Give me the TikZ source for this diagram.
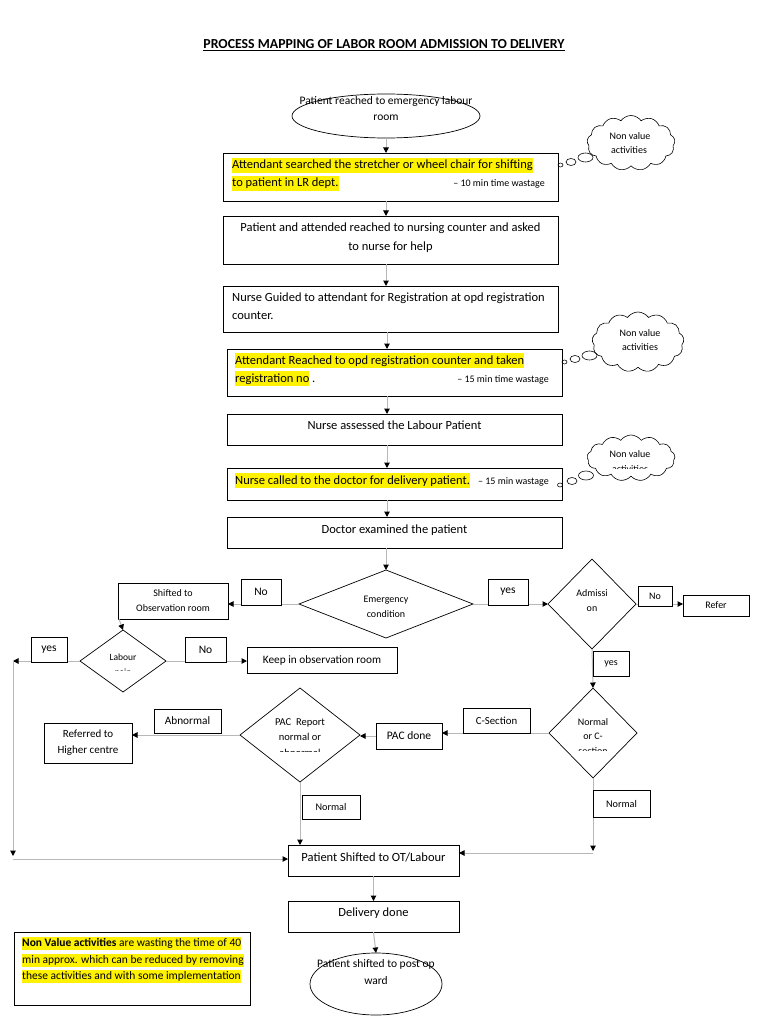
\documentclass[tikz,border=0pt]{standalone}
\usepackage{fontspec}
\setmainfont{Carlito}
\usetikzlibrary{shapes.geometric,shapes.symbols,arrows.meta,calc}
\newcommand{\hly}[1]{{\setlength{\fboxsep}{0pt}\colorbox{yellow}{\rule[-3.8pt]{0pt}{15pt}#1}}}
\newcommand{\hlz}[1]{{\setlength{\fboxsep}{0pt}\colorbox{yellow}{\rule[-3.5pt]{0pt}{13.5pt}#1}}}
\begin{document}
\begin{tikzpicture}[x=1pt,y=-1pt,
  box/.style={draw=black, line width=0.7pt, inner sep=0pt, outer sep=0pt},
  lbl/.style={box, fill=white, font=\fontsize{11.5}{13}\selectfont},
  dia/.style={diamond, draw=black, line width=0.7pt, inner sep=0pt, outer sep=0pt},
  ell/.style={ellipse, draw=black, line width=0.7pt, inner sep=0pt, outer sep=0pt},
  conn/.style={draw=black!28, line width=1pt, -{Triangle[length=5.5pt,width=5.5pt,black]}},
  txt/.style={inner sep=0pt, font=\fontsize{12.5}{15}\selectfont, text height=9pt, text depth=3pt},
  stxt/.style={inner sep=0pt, font=\fontsize{10}{12}\selectfont, text height=7pt, text depth=2.5pt},
  mtxt/.style={inner sep=0pt, font=\fontsize{11.5}{13}\selectfont, text height=8pt, text depth=2.8pt},
  nv/.style={cloud, cloud puffs=13, cloud puff arc=110, draw=black, line width=0.6pt, inner sep=0pt},
  bub/.style={draw=black, line width=0.6pt}
]
\fill[white] (0,0) rectangle (768,1024);
\useasboundingbox (0,0) rectangle (768,1024);

% title
\node[font=\fontsize{13.8}{15}\selectfont\bfseries] (title) at (384,45) {\underline{PROCESS MAPPING OF LABOR ROOM ADMISSION TO DELIVERY}};

% start
\node[ell, minimum width=188pt, minimum height=44pt] (st) at (386,116) {};
\node[mtxt] (st1) at (386,102) {Patient reached to emergency labour};
\node[mtxt] (st2) at (386,118) {room};

% main boxes
\node[box, minimum width=335pt, minimum height=48pt] (b1) at (390.5,177) {};
\node[txt, anchor=west] (b1a) at (232,166) {\hly{Attendant searched the stretcher or wheel chair for shifting}};
\node[txt, anchor=west] (b1b) at (232,184) {\hly{to patient in LR dept.}};
\node[stxt, anchor=east] (b1c) at (545,184) {– 10 min time wastage};

\node[box, minimum width=335pt, minimum height=48pt] (b2) at (390.5,240) {};
\node[txt] (b2a) at (390.5,229) {Patient and attended reached to nursing counter and asked};
\node[txt] (b2b) at (390.5,247) {to nurse for help};

\node[box, minimum width=335pt, minimum height=46pt] (b3) at (390.5,309) {};
\node[txt, anchor=west] (b3a) at (232,298) {Nurse Guided to attendant for Registration at opd registration};
\node[txt, anchor=west] (b3b) at (232,316) {counter.};

\node[box, minimum width=335pt, minimum height=47pt] (b4) at (394.5,372.5) {};
\node[txt, anchor=west] (b4a) at (235,361) {\hly{Attendant Reached to opd registration counter and taken}};
\node[txt, anchor=west] (b4b) at (235,379) {\hly{registration no} .};
\node[stxt, anchor=east] (b4c) at (549,380) {– 15 min time wastage};

\node[box, minimum width=335pt, minimum height=31pt] (b5) at (394.5,429.5) {};
\node[txt] (b5a) at (394.5,426.5) {Nurse assessed the Labour Patient};

\node[box, minimum width=335pt, minimum height=32pt] (b6) at (394.5,484) {};
\node[txt, anchor=west] (b6a) at (235,481) {\hly{Nurse called to the doctor for delivery patient.}};
\node[stxt, anchor=east] (b6b) at (549,482) {– 15 min wastage};

\node[box, minimum width=335pt, minimum height=31pt] (b7) at (394.5,532.5) {};
\node[txt] (b7a) at (394.5,530) {Doctor examined the patient};

% clouds
\node[nv, minimum width=88pt, minimum height=55pt] (c1) at (631,143) {};
\node[stxt] (c1a) at (630,137) {Non value};
\node[stxt] (c1b) at (629,151) {activities};
\draw[bub] (560.5,165) ellipse (2.5 and 2);
\draw[bub] (571,162) ellipse (5 and 3.5);
\draw[bub] (585.5,157.5) ellipse (7.5 and 4.5);

\node[nv, minimum width=92pt, minimum height=60pt] (c2) at (638,342) {};
\node[stxt] (c2a) at (640,334) {Non value};
\node[stxt] (c2b) at (640,348) {activities};
\draw[bub] (564.5,362) ellipse (2.5 and 2);
\draw[bub] (575,359) ellipse (5 and 3.5);
\draw[bub] (589.5,355.5) ellipse (7.5 and 4.5);

\node[nv, minimum width=88pt, minimum height=46pt] (c3) at (631,458) {};
\node[stxt] (c3a) at (630,455) {Non value};
\begin{scope}
\clip (590,464) rectangle (670,468);
\node[stxt] (c3b) at (630,470) {activities};
\end{scope}
\draw[bub] (560,485) ellipse (2.5 and 2);
\draw[bub] (572,481) ellipse (5 and 3.5);
\draw[bub] (586,475.5) ellipse (7.5 and 4.5);

% decisions
\node[dia, minimum width=174pt, minimum height=68pt] (em) at (386,604) {};
\node[stxt] (em1) at (386,600) {Emergency};
\begin{scope}
\clip (340,606) rectangle (430,616);
\node[stxt] (em2) at (386,615) {condition};
\end{scope}

\node[dia, minimum width=88pt, minimum height=90pt] (adm) at (592,604) {};
\node[stxt] (adm1) at (592,594.5) {Admissi};
\node[stxt] (adm2) at (592,609) {on};

\node[dia, minimum width=88pt, minimum height=90pt] (nc) at (593,733) {};
\node[stxt] (nc1) at (593,723) {Normal};
\node[stxt] (nc2) at (593,737) {or C-};
\begin{scope}
\clip (560,745) rectangle (626,750);
\node[stxt] (nc3) at (593,752) {section};
\end{scope}

\node[dia, minimum width=86pt, minimum height=62pt] (lab) at (123,661) {};
\node[stxt, font=\fontsize{9.5}{11}\selectfont] (lab1) at (123,658) {Labour};
\begin{scope}
\clip (100,666) rectangle (146,670.5);
\node[stxt, font=\fontsize{9.5}{11}\selectfont] (lab2) at (123,673) {pain};
\end{scope}

\node[dia, minimum width=120pt, minimum height=94pt] (pac) at (300,735) {};
\node[stxt, font=\fontsize{10.5}{12}\selectfont] (pac1) at (300,723) {PAC\ \ Report};
\node[stxt, font=\fontsize{10.5}{12}\selectfont] (pac2) at (300,738) {normal or};
\begin{scope}
\clip (260,746) rectangle (340,751);
\node[stxt, font=\fontsize{10.5}{12}\selectfont] (pac3) at (300,754) {abnormal};
\end{scope}

% other boxes
\node[box, minimum width=110pt, minimum height=36pt, align=center, font=\fontsize{10}{15}\selectfont] (shf) at (173,601) {Shifted to\\Observation room};
\node[box, minimum width=66pt, minimum height=21pt, font=\fontsize{10}{12}\selectfont] (refer) at (716,605.5) {Refer};
\node[box, minimum width=150pt, minimum height=26pt, font=\fontsize{11.3}{13}\selectfont] (keep) at (322,660) {Keep in observation room};
\node[box, minimum width=66pt, minimum height=26pt, font=\fontsize{11.5}{13}\selectfont] (pacd) at (409,736) {PAC done};
\node[box, minimum width=88pt, minimum height=40pt, align=center, font=\fontsize{11}{16}\selectfont] (reff) at (88,743) {Referred to\\Higher centre};
\node[box, minimum width=171pt, minimum height=31pt] (ot) at (373.5,860.5) {};
\node[txt] (ota) at (373.5,858) {Patient Shifted to OT/Labour};
\node[box, minimum width=171pt, minimum height=31pt] (del) at (373.5,916.5) {};
\node[txt] (dela) at (373.5,913) {Delivery done};
\node[ell, minimum width=132pt, minimum height=62pt] (fin) at (376,984) {};
\node[mtxt] (fin1) at (376,965) {Patient shifted to post op};
\node[mtxt] (fin2) at (376,982) {ward};

% coordinates for free ends
\coordinate (L1) at (13,661);
\coordinate (L2) at (13,856);
\coordinate (L3) at (13,859);
\coordinate (R1) at (593,851);
\coordinate (R2) at (593,853);

% connectors
\draw[conn] (st.south) -- (st.south |- b1.north);
\draw[conn] (b1.south -| st.south) -- (b2.north -| st.south);
\draw[conn] (b2.south -| st.south) -- (b3.north -| st.south);
\draw[conn] ($(b3.south -| st.south)+(1,0)$) -- ($(b4.north -| st.south)+(1,0)$);
\draw[conn] ($(b4.south -| st.south)+(1,0)$) -- ($(b5.north -| st.south)+(1,0)$);
\draw[conn] ($(b5.south -| st.south)+(1,0)$) -- ($(b6.north -| st.south)+(1,0)$);
\draw[conn] ($(b6.south -| st.south)+(1,0)$) -- ($(b7.north -| st.south)+(1,0)$);
\draw[conn] (b7.south -| em.north) -- (em.north);
\draw[conn] (em.west) -- (em.west -| shf.east);
\draw[conn] (em.east) -- (adm.west);
\draw[conn] (adm.east) -- (adm.east -| refer.west);
\draw[conn] (adm.south) -- (nc.north);
\draw[conn] ($(shf.south -| lab.north)+(-4,0)$) -- (lab.north);
\draw[conn] (lab.west) -- (L1);
\draw[conn] (L1) -- (L2);
\draw[conn] (L3) -- (L3 -| ot.west);
\draw[conn] (lab.east) -- (lab.east -| keep.west);
\draw[conn] (nc.west) -- (nc.west -| pacd.east);
\draw[conn] (pacd.west) -- (pacd.west -| pac.east);
\draw[conn] (pac.west) -- (pac.west -| reff.east);
\draw[conn] (pac.south) -- (pac.south |- ot.north);
\draw[conn] (nc.south) -- (R1);
\draw[conn] (R2) -- (R2 -| ot.east);
\draw[conn] (ot.south) -- (del.north);
\draw[conn] (del.south) -- (fin.north);

% branch labels
\node[lbl, minimum width=40pt, minimum height=26pt] (noE) at (261,592) {No};
\node[lbl, minimum width=40pt, minimum height=26pt] (yesE) at (508,592) {yes};
\node[lbl, minimum width=34pt, minimum height=20pt, font=\fontsize{10}{12}\selectfont] (noA) at (655,596) {No};
\node[lbl, minimum width=36pt, minimum height=25pt, font=\fontsize{10}{12}\selectfont] (yesA) at (611,663.5) {yes};
\node[lbl, minimum width=36pt, minimum height=25pt] (yesL) at (49,649.5) {yes};
\node[lbl, minimum width=41pt, minimum height=25pt] (noL) at (205.5,649.5) {No};
\node[lbl, minimum width=67pt, minimum height=25pt, font=\fontsize{10.8}{13}\selectfont] (csec) at (496.5,720.5) {C-Section};
\node[lbl, minimum width=67pt, minimum height=24pt, font=\fontsize{11.3}{13}\selectfont] (abn) at (187.5,721) {Abnormal};
\node[lbl, minimum width=58pt, minimum height=24pt, font=\fontsize{10.2}{12}\selectfont] (normP) at (331,807) {Normal};
\node[lbl, minimum width=57pt, minimum height=27pt, font=\fontsize{10.2}{12}\selectfont] (normR) at (621.5,803.5) {Normal};

% note
\node[box, minimum width=236pt, minimum height=73pt] (note) at (132,968.5) {};
\node[mtxt, anchor=west] (n1) at (22,944) {\hlz{\textbf{Non Value activities} are wasting the time of 40}};
\node[mtxt, anchor=west] (n2) at (22,961) {\hlz{min approx. which can be reduced by removing}};
\node[mtxt, anchor=west] (n3) at (22,977) {\hlz{these activities and with some implementation}};
\end{tikzpicture}
\end{document}
